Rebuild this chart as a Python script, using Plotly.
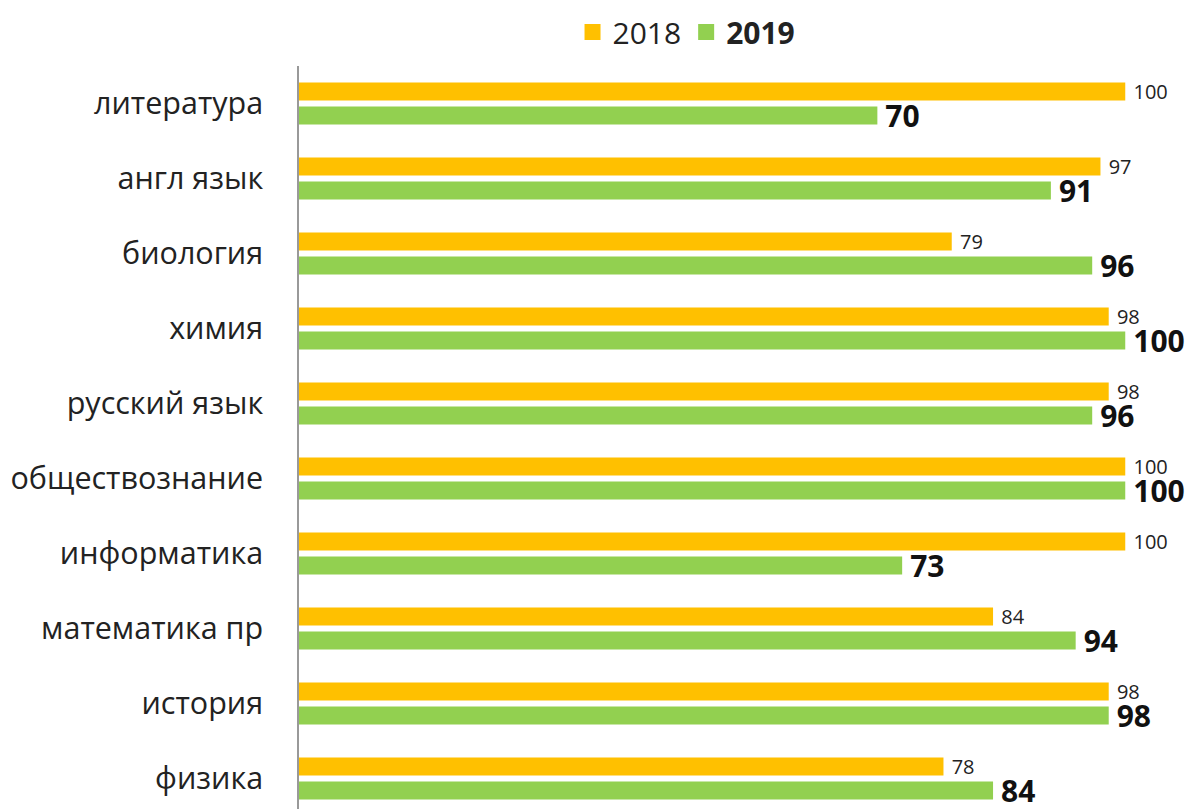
import plotly.graph_objects as go

categories = ["литература", "англ язык", "биология", "химия", "русский язык",
              "обществознание", "информатика", "математика пр", "история", "физика"]
values_2018 = [100, 97, 79, 98, 98, 100, 100, 84, 98, 78]
values_2019 = [70, 91, 96, 100, 96, 100, 73, 94, 98, 84]

YELLOW = "#FFC000"
GREEN = "#92D050"
FONT = "Open Sans"

fig = go.Figure()
fig.add_trace(go.Bar(
    y=categories, x=values_2018, orientation="h", name="2018",
    marker=dict(color=YELLOW, line=dict(width=0)),
    textposition="outside", cliponaxis=False, constraintext="none",
    texttemplate=" %{x}",
    textfont=dict(family=FONT, size=20, color="#222222"),
    showlegend=False,
))
fig.add_trace(go.Bar(
    y=categories, x=values_2019, orientation="h", name="2019",
    marker=dict(color=GREEN, line=dict(width=0)),
    textposition="outside", cliponaxis=False, constraintext="none",
    texttemplate="\u2009<b>%{x}</b>",
    textfont=dict(family=FONT, size=30, color="#111111"),
    showlegend=False,
))
# legend entries
fig.add_trace(go.Scatter(x=[None], y=[None], mode="markers", name="2018",
                         marker=dict(symbol="square", size=19, color=YELLOW)))
fig.add_trace(go.Scatter(x=[None], y=[None], mode="markers", name="<b>2019</b>",
                         marker=dict(symbol="square", size=19, color=GREEN)))

# page body has an 8px margin, so the figure is sized/offset to compensate
fig.update_layout(
    width=1185, height=801,
    margin=dict(l=291, r=0, t=58, b=0, autoexpand=False),
    paper_bgcolor="white", plot_bgcolor="white",
    barmode="group", bargap=0.36, bargroupgap=0.25,
    font=dict(family=FONT, size=30, color="#222222"),
    legend=dict(orientation="h", xref="container", yref="container",
                x=0.5726, xanchor="center", y=0.97, yanchor="middle",
                font=dict(family=FONT, size=30, color="#222222"),
                itemwidth=30, tracegroupgap=0),
    xaxis=dict(range=[0, 108.2], visible=False, showgrid=False, zeroline=False),
    yaxis=dict(type="category", range=[9.407, -0.5], showgrid=False,
               showline=True, linecolor="#999999", linewidth=1.5,
               ticks="", ticklabelstandoff=28,
               tickfont=dict(family=FONT, size=30.5, color="#222222")),
)

fig.write_html("out.html")
